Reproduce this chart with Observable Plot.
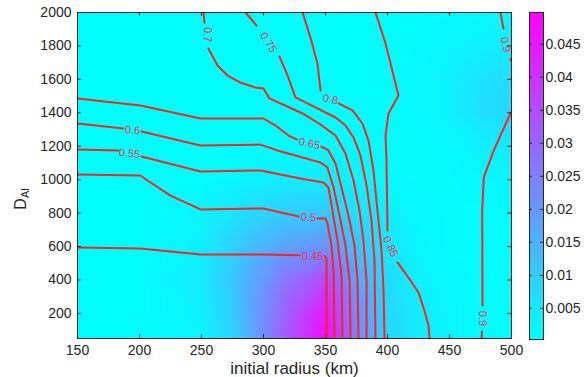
<!DOCTYPE html>
<html><head><meta charset="utf-8">
<script src="https://cdn.jsdelivr.net/npm/d3@7"></script>
<script src="https://cdn.jsdelivr.net/npm/@observablehq/plot@0.6"></script>
<style>
body{margin:0;background:#fff;}
#wrap{display:flex;width:587px;height:377px;overflow:hidden;}
svg{font-family:"Liberation Sans",Arial,Helvetica,sans-serif;}
</style></head><body><div id="wrap"></div>
<script>
// ---- axes / ticks ----
const xTicks = [150, 200, 250, 300, 350, 400, 450, 500];
const yTicks = [200, 400, 600, 800, 1000, 1200, 1400, 1600, 1800, 2000];
const xDomain = [150, 500];
const yDomain = [50, 2000];
const xLabel = "initial radius (km)";
const yLabelMain = "D";
const yLabelSub = "Al";
const cbDomain = [0.0003, 0.0498];
const cbTicks = [0.005, 0.01, 0.015, 0.02, 0.025, 0.03, 0.035, 0.04, 0.045];
const cbTickLabels = ["0.005", "0.01", "0.015", "0.02", "0.025", "0.03", "0.035", "0.04", "0.045"];

// ---- background field (colour map) on a grid ----
const gridX = [150, 200, 250, 275, 300, 325, 350, 375, 400, 425, 450, 475, 500];
const gridY = [50, 200, 400, 600, 800, 1000, 1200, 1400, 1600, 1800, 2000];
const fieldRows = [
  [0.0006, 0.0007, 0.002, 0.009, 0.022, 0.036, 0.048, 0.024, 0.008, 0.004, 0.002, 0.001, 0.0008],
  [0.0006, 0.0008, 0.003, 0.010, 0.022, 0.034, 0.045, 0.023, 0.008, 0.004, 0.002, 0.001, 0.0008],
  [0.0006, 0.0008, 0.004, 0.011, 0.020, 0.029, 0.036, 0.018, 0.007, 0.003, 0.0015, 0.001, 0.0008],
  [0.0005, 0.0007, 0.003, 0.009, 0.015, 0.019, 0.022, 0.012, 0.005, 0.002, 0.001, 0.0008, 0.0008],
  [0.0005, 0.0006, 0.002, 0.005, 0.008, 0.010, 0.011, 0.006, 0.003, 0.0015, 0.001, 0.001, 0.001],
  [0.0005, 0.0005, 0.0008, 0.0015, 0.003, 0.004, 0.004, 0.0025, 0.0015, 0.001, 0.001, 0.0015, 0.002],
  [0.0005, 0.0005, 0.0005, 0.0006, 0.0008, 0.001, 0.0012, 0.001, 0.001, 0.001, 0.0015, 0.003, 0.0045],
  [0.0005, 0.0005, 0.0005, 0.0005, 0.0006, 0.0007, 0.0008, 0.0008, 0.001, 0.0015, 0.003, 0.006, 0.008],
  [0.0005, 0.0005, 0.0005, 0.0005, 0.0005, 0.0006, 0.0006, 0.0007, 0.001, 0.0015, 0.003, 0.0055, 0.007],
  [0.0005, 0.0005, 0.0005, 0.0005, 0.0005, 0.0005, 0.0005, 0.0006, 0.0008, 0.0012, 0.002, 0.003, 0.004],
  [0.0005, 0.0005, 0.0005, 0.0005, 0.0005, 0.0005, 0.0005, 0.0005, 0.0006, 0.0008, 0.001, 0.0015, 0.002]
];

// ---- contour lines (x, y); each level may have several pieces ----
const c045 = [[[150,594],[200.8,588],[249.2,552],[300,552],[329,548]],
              [[349.5,543],[350.8,529],[351,50]]];
const c050 = [[[150,1031],[200.8,1025],[206.5,995],[225,905],[249.2,822],[300,828],[328.5,780]],
              [[343.5,768],[350,768],[351.6,738],[354.8,606],[356.5,457],[357.3,50]]];
const c055 = [[[150,1181],[183,1175]],
              [[201.6,1139],[249.2,1049],[297.6,1055],[329.8,1007],[348.4,983],[352.4,953],[355.6,816],[359.7,636],[362.9,427],[363.7,50]]];
const c060 = [[[150,1336],[187,1306]],
              [[201.6,1288],[249.2,1204],[297.6,1210],[311.3,1175],[346,1103],[351.6,1073],[356.5,953],[361.3,786],[366.1,606],[369.4,397],[370.2,50]]];
const c065 = [[[150,1486],[200.8,1444],[249.2,1366],[300,1366],[309.7,1324],[320.2,1264],[327,1240]],
              [[346.8,1198],[352.4,1175],[358.1,1097],[362.9,953],[368.5,786],[373.4,606],[375.8,397],[376.6,50]]];
const c070 = [[[251.6,2000],[252.4,1940]],
              [[255.6,1785],[262.9,1683],[271,1623],[281.5,1581],[293.5,1551],[300,1545],[304.8,1486],[331.5,1396],[346,1330],[358.1,1264],[366.1,1157],[372.6,995],[377.4,816],[380.6,636],[383.1,397],[383.1,50]]];
const c075 = [[[285.5,2000],[294.4,1922]],
              [[312.9,1737],[319.4,1623],[325.8,1492],[341.9,1432],[358.1,1372],[366.1,1324],[372.6,1252],[378.2,1145],[383.1,965],[387.1,756],[389.5,517],[390.3,50]]];
const c080 = [[[331.5,2000],[337.9,1850],[343.5,1695],[346,1533]],
              [[360.5,1456],[371.8,1414],[379.8,1336],[384.7,1234],[388.7,1055],[391.9,816],[395.2,577],[396.8,337],[397.6,50]]];
const c085 = [[[390.3,2000],[398.4,1815],[408.9,1504],[400.8,1396],[398.4,1264],[399.2,1115],[400,696]],
              [[408.1,505],[418.5,397],[425,325],[429.8,217],[433.1,128],[433.9,50]]];
const c090 = [[[491.1,2000],[493.5,1904]],
              [[499,1720],[502,1690]],
              [[502,1430],[499.2,1396],[485.7,1175],[477.7,1015],[476.4,816],[476.6,247]],
              [[476.2,92],[475.8,50]]];

// ---- inline contour labels ----
const labelText  = ["0.7", "0.75", "0.8", "0.65", "0.6", "0.55", "0.5", "0.45", "0.85", "0.9", "0.9"];
const labelX     = [254.8, 304,   354,   337,    194.4, 191.9,  336.3, 339.5,  402.4,  495.2, 476.6];
const labelY     = [1868,  1821,  1480,  1216,   1297,  1157,   774,   540,    600,    1809,  170];
const labelAngle = [90,    58,    12,    12,     5,     7,      3,     0,      65,     78,    90];

// ---- build tables ----
const field = [];
gridY.forEach((y, j) => gridX.forEach((x, i) => field.push({x, y, v: fieldRows[j][i]})));

const contourSets = [c045, c050, c055, c060, c065, c070, c075, c080, c085, c090];
const contourRows = [];
contourSets.forEach((set, k) => set.forEach((piece, p) =>
  piece.forEach(([x, y]) => contourRows.push({x, y, seg: k * 10 + p}))));

const labels = labelText.map((t, i) => ({t, x: labelX[i], y: labelY[i], a: labelAngle[i]}));

const colorScale = {type: "linear", domain: cbDomain, range: ["#00ffff", "#ff00ff"], interpolate: "rgb", clamp: true};
const ink = "#262626";
const font = '"Liberation Sans", Arial, Helvetica, sans-serif';

// frame sizes (pixels) used for inward tick lengths
const mainW = 520, mainH = 377, mL = 77, mR = 9, mT = 12, mB = 39;
const fw = mainW - mL - mR, fh = mainH - mT - mB;
const tick = 4;

const main = Plot.plot({
  width: mainW, height: mainH,
  marginLeft: mL, marginRight: mR, marginTop: mT, marginBottom: mB,
  style: {fontFamily: font, fontSize: "14px", color: ink, background: "transparent", overflow: "visible"},
  x: {domain: xDomain},
  y: {domain: yDomain},
  color: colorScale,
  marks: [
    Plot.raster(field, {x: "x", y: "y", fill: "v", interpolate: "barycentric",
      x1: xDomain[0], x2: xDomain[1], y1: yDomain[0], y2: yDomain[1]}),
    Plot.line(contourRows, {x: "x", y: "y", z: "seg", stroke: "#f5261c", strokeWidth: 2, clip: true}),
    Plot.text(labels, {x: "x", y: "y", text: "t", rotate: "a", fill: "#ec3150", fontSize: 11, fontFamily: font}),
    Plot.frame({stroke: ink}),
    Plot.ruleX(xTicks, {x: d => d, insetTop: fh - tick, stroke: ink}),
    Plot.ruleX(xTicks, {x: d => d, insetBottom: fh - tick, stroke: ink}),
    Plot.ruleY(yTicks, {y: d => d, insetRight: fw - tick, stroke: ink}),
    Plot.ruleY(yTicks, {y: d => d, insetLeft: fw - tick, stroke: ink}),
    Plot.axisX({anchor: "bottom", ticks: xTicks, tickSize: 0, tickPadding: 7, label: null, fill: ink, fontSize: 14,
      tickFormat: d => String(d)}),
    Plot.axisY({anchor: "left", ticks: yTicks, tickSize: 0, tickPadding: 6, label: null, fill: ink, fontSize: 14,
      tickFormat: d => String(d)}),
    Plot.text([xLabel], {frameAnchor: "bottom", text: d => d, dy: 30, lineAnchor: "middle", fontSize: 17, fill: ink, fontFamily: font})
  ]
});

const barW = 67, bL = 9, bR = 44;
const bw = barW - bL - bR;
const bar = Plot.plot({
  width: barW, height: 377,
  marginLeft: bL, marginRight: bR, marginTop: 12, marginBottom: 38,
  style: {fontFamily: font, fontSize: "14px", color: ink, background: "transparent", overflow: "visible"},
  x: {domain: [0, 1], axis: null},
  y: {domain: cbDomain, axis: null},
  color: colorScale,
  marks: [
    Plot.raster({x1: 0, x2: 1, y1: cbDomain[0], y2: cbDomain[1], fill: (x, y) => y}),
    Plot.frame({stroke: ink}),
    Plot.ruleY(cbTicks, {y: d => d, insetRight: bw - 3, stroke: ink}),
    Plot.ruleY(cbTicks, {y: d => d, insetLeft: bw - 3, stroke: ink}),
    Plot.axisY({anchor: "right", ticks: cbTicks, tickSize: 0, tickPadding: 2, label: null, fill: ink, fontSize: 14,
      tickFormat: d => cbTickLabels[cbTicks.indexOf(d)]})
  ]
});

document.getElementById("wrap").append(main, bar);

// y-axis title with subscript
const yl = d3.select(main).append("text")
  .attr("transform", "translate(26,199) rotate(-90)")
  .attr("fill", ink).attr("font-family", font);
yl.append("tspan").attr("font-size", 16).text(yLabelMain);
yl.append("tspan").attr("font-size", 11).attr("dy", 3).text(yLabelSub);
</script>
</body></html>
